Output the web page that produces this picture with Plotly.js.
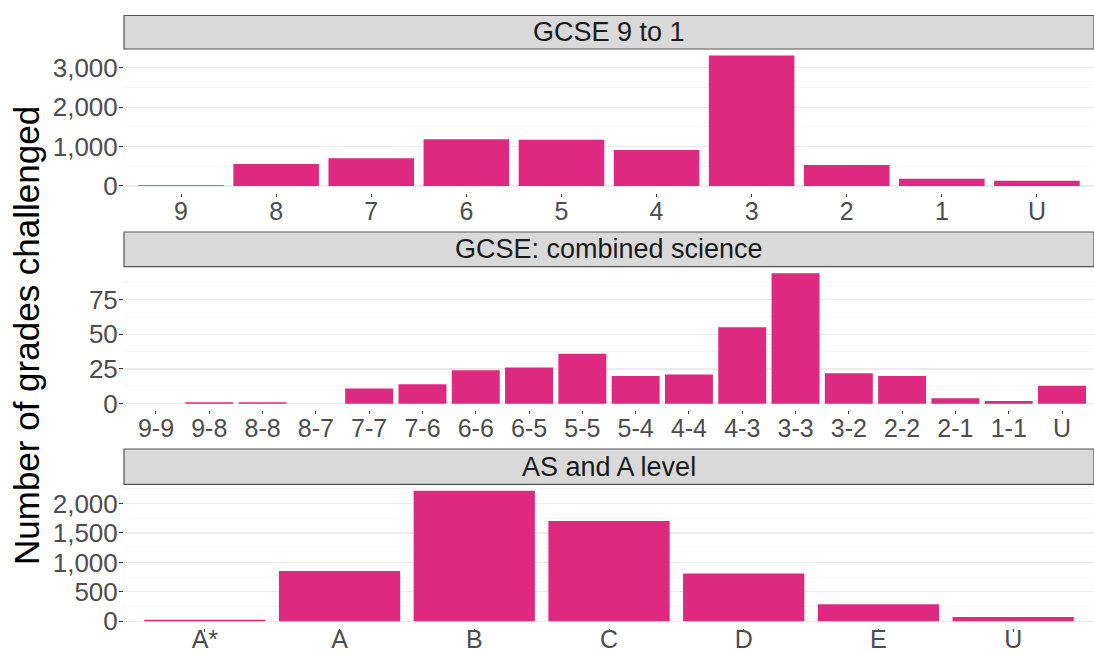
<!DOCTYPE html>
<html>
<head>
<meta charset="utf-8">
<script src="https://cdn.plot.ly/plotly-3.0.1.min.js"></script>
<style>
  html, body { margin: 0; padding: 0; background: #ffffff; }
  #chart { width: 1094px; height: 654px; }
</style>
</head>
<body>
<div id="chart"></div>
<script>
// ---- Data ----
const gcseCategories = ['9', '8', '7', '6', '5', '4', '3', '2', '1', 'U'];
const gcseValues = [20, 560, 705, 1188, 1170, 916, 3310, 534, 186, 135];

const scienceCategories = ['9-9', '9-8', '8-8', '8-7', '7-7', '7-6', '6-6', '6-5', '5-5',
                           '5-4', '4-4', '4-3', '3-3', '3-2', '2-2', '2-1', '1-1', 'U'];
const scienceValues = [0, 1, 1, 0, 11, 14, 24, 26, 36, 20, 21, 55, 94, 22, 20, 4, 2, 13];

const alevelCategories = ['A*', 'A', 'B', 'C', 'D', 'E', 'U'];
const alevelValues = [28, 852, 2216, 1705, 813, 290, 74];

const panelTitles = ['GCSE 9 to 1', 'GCSE: combined science', 'AS and A level'];
const panelDticks = [1000, 25, 500];
const yAxisTitle = 'Number of grades challenged';

// ---- Styling / layout ----
const W = 1094, H = 654;
const barColor = '#DE2981';
const fontFamily = '"Liberation Sans", Arial, Helvetica, sans-serif';
const xLeftPx = 124;
// pixel positions [stripTop, plotTop, plotBottom]
const panelPx = [
  [15.5, 49, 192.5],
  [232, 266.7, 410.2],
  [449, 484.3, 627.8]
];
const xLabelStandoff = [-7, -7, -14];
const fy = px => 1 - px / H;

const cats = [gcseCategories, scienceCategories, alevelCategories];
const vals = [gcseValues, scienceValues, alevelValues];

const traces = [];
const layout = {
  width: W, height: H,
  margin: {l: 0, r: 0, t: 0, b: 0},
  paper_bgcolor: '#ffffff',
  plot_bgcolor: '#ffffff',
  showlegend: false,
  bargap: 0.1,
  font: {family: fontFamily, color: '#4d4d4d'},
  shapes: [],
  annotations: []
};

for (let i = 0; i < 3; i++) {
  const n = i + 1;
  const xa = 'x' + (n === 1 ? '' : n);
  const ya = 'y' + (n === 1 ? '' : n);
  traces.push({
    type: 'bar',
    x: cats[i],
    y: vals[i],
    xaxis: xa, yaxis: ya,
    marker: {color: barColor, line: {width: 0}},
    hoverinfo: 'x+y'
  });
  const maxV = Math.max(...vals[i]);
  const [sTop, pTop, pBot] = panelPx[i];
  layout['xaxis' + (n === 1 ? '' : n)] = {
    domain: [xLeftPx / W, 1],
    anchor: ya,
    type: 'category',
    range: [-0.6, cats[i].length - 0.4],
    showgrid: false,
    zeroline: false,
    showline: false,
    ticks: 'outside',
    ticklen: 3,
    tickwidth: 1,
    tickcolor: '#333333',
    tickfont: {family: fontFamily, size: 25, color: '#4d4d4d'},
    ticklabelstandoff: xLabelStandoff[i],
    automargin: false,
    fixedrange: true
  };
  layout['yaxis' + (n === 1 ? '' : n)] = {
    domain: [fy(pBot), fy(pTop)],
    anchor: xa,
    range: [-0.05 * maxV, 1.05 * maxV],
    tickmode: 'linear',
    tick0: 0,
    dtick: panelDticks[i],
    tickformat: ',d',
    showgrid: true,
    gridcolor: '#ebebeb',
    gridwidth: 1.1,
    minor: {dtick: panelDticks[i] / 2, showgrid: true, gridcolor: '#f3f3f3', gridwidth: 0.6},
    zeroline: false,
    showline: false,
    ticks: 'outside',
    ticklen: 4,
    tickwidth: 1,
    tickcolor: '#333333',
    tickfont: {family: fontFamily, size: 26, color: '#4d4d4d'},
    ticklabelstandoff: -4,
    automargin: false,
    fixedrange: true
  };
  // strip
  layout.shapes.push({
    type: 'rect', xref: 'paper', yref: 'paper',
    x0: xLeftPx / W, x1: 1, y0: fy(pTop), y1: fy(sTop),
    fillcolor: '#d9d9d9',
    line: {color: '#555555', width: 1.2},
    layer: 'above'
  });
  layout.annotations.push({
    xref: 'paper', yref: 'paper',
    x: (xLeftPx / W + 1) / 2,
    y: (fy(pTop) + fy(sTop)) / 2,
    xanchor: 'center', yanchor: 'middle',
    text: panelTitles[i],
    showarrow: false,
    font: {family: fontFamily, size: 27, color: '#1a1a1a'}
  });
}

layout.annotations.push({
  xref: 'paper', yref: 'paper',
  x: 26 / W, y: fy(336),
  xanchor: 'center', yanchor: 'middle',
  textangle: -90,
  text: yAxisTitle,
  showarrow: false,
  font: {family: fontFamily, size: 35, color: '#000000'}
});

Plotly.newPlot('chart', traces, layout, {displayModeBar: false, staticPlot: true});
</script>
</body>
</html>
